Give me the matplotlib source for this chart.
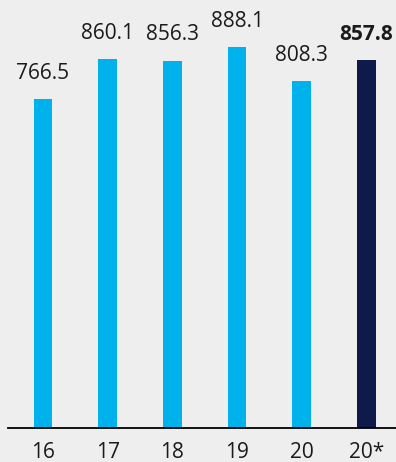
import matplotlib
matplotlib.use("Agg")
import matplotlib.pyplot as plt

categories = ["16", "17", "18", "19", "20", "20*"]
values = [766.5, 860.1, 856.3, 888.1, 808.3, 857.8]
labels = ["766.5", "860.1", "856.3", "888.1", "808.3", "857.8"]

plt.rcParams['font.family'] = ['Open Sans', 'DejaVu Sans']

bg = "#eeeeee"
light = "#00b2ec"
dark = "#0e1a4c"
txt = "#1a1a1a"

fig = plt.figure(figsize=(3.96, 4.62), dpi=100, facecolor=bg)
ax = fig.add_axes([8/396, 34/462, 388/396, 428/462])
ax.set_facecolor(bg)

x = list(range(len(categories)))
colors = [light]*5 + [dark]
ax.bar(x, values, width=0.29, color=colors, zorder=2)

for i, (v, l) in enumerate(zip(values, labels)):
    ax.text(i, v + 36, l, ha="center", va="bottom", fontsize=15,
            color=txt, fontweight="bold" if i == 5 else "normal")

ax.set_xlim(-0.541, 5.456)
ax.set_ylim(0, 998)
ax.set_xticks(x)
ax.set_xticklabels(categories, fontsize=15, color=txt)
ax.tick_params(axis="x", length=0, pad=10)
ax.set_yticks([])
for s in ["top", "right", "left"]:
    ax.spines[s].set_visible(False)
ax.spines["bottom"].set_color("#000000")
ax.spines["bottom"].set_linewidth(1.3)
ax.spines["bottom"].set_zorder(3)

fig.savefig("out.png", dpi=100, facecolor=bg)
